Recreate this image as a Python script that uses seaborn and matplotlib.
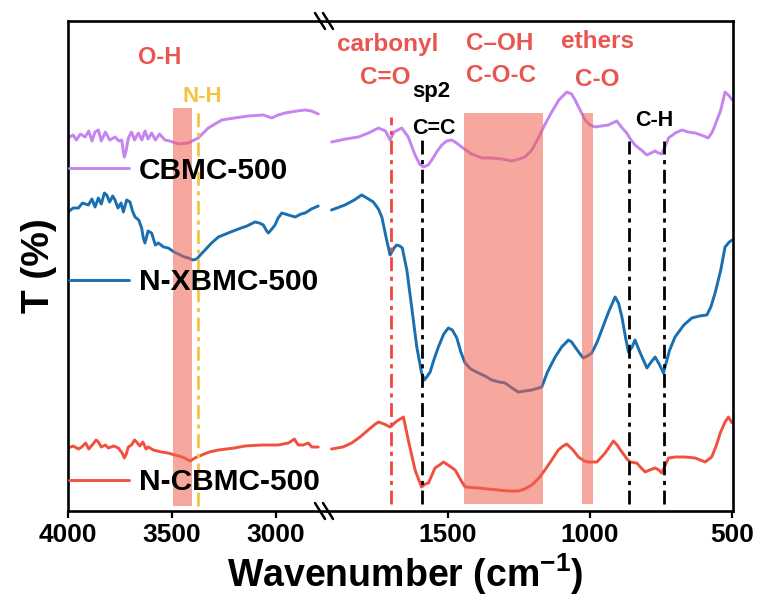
import pandas as pd                 # data tables
import seaborn as sns               # plotting
import matplotlib.pyplot as plt     # plotting
from matplotlib.lines import Line2D
from matplotlib.legend import Legend

# ---- spectra, high-wavenumber window (4000 - 2750 cm-1) ----
wn_cb_hi = [4000, 3975, 3960, 3940, 3918, 3900, 3885, 3870, 3854, 3840, 3820, 3800, 3774, 3755, 3742,
            3732, 3729, 3720, 3710, 3695, 3680, 3662, 3645, 3630, 3615, 3598, 3580, 3560, 3534, 3510,
            3470, 3422, 3374, 3326, 3261, 3200, 3133, 3060, 3021, 2990, 2957, 2900, 2861, 2830, 2797]
t_cb_hi = [372, 375, 370, 376, 373, 379, 369, 378, 380, 369, 378, 370, 373, 369, 370,
           356, 353, 360, 372, 378, 370, 377, 370, 379, 371, 377, 370, 376, 370, 369,
           366, 367, 372, 382, 390, 392, 394, 395, 392, 395, 397, 399, 400, 399, 396]

wn_nx_hi = [4000, 3975, 3950, 3930, 3902, 3885, 3870, 3854, 3840, 3825, 3814, 3800, 3785, 3774, 3760,
            3745, 3734, 3718, 3702, 3690, 3678, 3660, 3646, 3638, 3630, 3615, 3598, 3580, 3566, 3540,
            3518, 3490, 3470, 3440, 3421, 3400, 3381, 3360, 3341, 3310, 3277, 3230, 3181, 3140, 3101,
            3080, 3061, 3045, 3037, 3020, 3005, 2990, 2972, 2940, 2908, 2880, 2860, 2830, 2797]
t_nx_hi = [298, 302, 302, 307, 305, 311, 303, 312, 306, 317, 315, 308, 314, 310, 302,
           307, 298, 310, 308, 299, 293, 290, 282, 272, 267, 279, 277, 265, 267, 263,
           262, 258, 256, 253, 252, 250, 251, 256, 260, 267, 273, 277, 281, 284, 288,
           287, 285, 279, 277, 281, 285, 292, 297, 295, 293, 296, 297, 301, 304]

wn_nc_hi = [4000, 3975, 3950, 3934, 3915, 3900, 3880, 3865, 3854, 3840, 3820, 3806, 3780, 3758, 3740,
            3729, 3720, 3710, 3695, 3680, 3670, 3655, 3640, 3625, 3614, 3590, 3550, 3520, 3486, 3450,
            3413, 3390, 3357, 3320, 3277, 3200, 3149, 3070, 2989, 2941, 2925, 2912, 2900, 2893, 2870,
            2845, 2828, 2797]
t_nc_hi = [62, 64, 61, 63, 67, 61, 66, 70, 68, 63, 65, 62, 64, 62, 57,
           52, 56, 63, 65, 70, 68, 64, 68, 61, 63, 60, 58, 57, 55, 53,
           49, 52, 55, 58, 60, 62, 64, 65, 65, 67, 69, 71, 67, 65, 65,
           67, 63, 63]

# ---- spectra, low-wavenumber window (1925 - 500 cm-1) ----
wn_cb_lo = [1910, 1860, 1816, 1780, 1745, 1720, 1704, 1690, 1663, 1640, 1616, 1600, 1587, 1570, 1557,
            1540, 1522, 1505, 1487, 1470, 1452, 1417, 1380, 1346, 1310, 1276, 1250, 1229, 1205, 1182,
            1160, 1135, 1110, 1082, 1065, 1053, 1035, 1018, 1000, 982, 960, 936, 906, 890, 871,
            856, 842, 820, 800, 785, 771, 760, 748, 735, 724, 700, 677, 655, 630, 600,
            584, 570, 560, 540, 525, 510, 500]
t_cb_lo = [368, 371, 373, 377, 382, 379, 370, 378, 382, 373, 355, 346, 343, 345, 350,
           358, 365, 369, 370, 367, 363, 356, 352, 352, 351, 349, 351, 353, 360, 372,
           385, 398, 410, 418, 416, 410, 400, 390, 385, 383, 384, 385, 389, 383, 377,
           370, 365, 360, 355, 357, 359, 357, 356, 364, 372, 377, 380, 378, 377, 374,
           372, 378, 385, 400, 418, 414, 410]

wn_nx_lo = [1910, 1863, 1830, 1804, 1780, 1763, 1745, 1733, 1716, 1704, 1690, 1681, 1670, 1661, 1645,
            1628, 1610, 1593, 1583, 1575, 1563, 1550, 1534, 1515, 1499, 1485, 1469, 1455, 1440, 1420,
            1393, 1370, 1346, 1320, 1299, 1275, 1253, 1230, 1205, 1170, 1150, 1123, 1100, 1076, 1065,
            1053, 1035, 1024, 1010, 994, 975, 959, 935, 912, 900, 888, 875, 865, 852, 842,
            825, 800, 785, 771, 755, 742, 720, 701, 670, 642, 615, 589, 575, 560, 540,
            525, 510, 500]
t_nx_lo = [300, 305, 310, 315, 311, 308, 301, 293, 270, 255, 262, 265, 264, 262, 240,
           203, 163, 137, 130, 133, 138, 150, 163, 176, 182, 180, 172, 158, 147, 141,
           137, 134, 130, 128, 127, 122, 118, 119, 120, 123, 138, 153, 163, 170, 168,
           163, 156, 152, 154, 157, 168, 180, 198, 213, 207, 193, 172, 158, 163, 170,
           158, 142, 148, 153, 145, 137, 160, 173, 185, 192, 194, 195, 203, 217, 240,
           263, 268, 270]

wn_nc_lo = [1910, 1870, 1839, 1810, 1781, 1760, 1745, 1725, 1704, 1680, 1657, 1640, 1628, 1616, 1600,
            1593, 1580, 1569, 1555, 1546, 1530, 1516, 1500, 1475, 1455, 1440, 1393, 1360, 1323, 1290,
            1253, 1230, 1205, 1180, 1159, 1135, 1112, 1095, 1082, 1060, 1041, 1020, 1006, 976, 947,
            930, 918, 905, 888, 870, 859, 836, 820, 806, 790, 771, 758, 748, 735, 724,
            700, 666, 630, 595, 572, 555, 542, 525, 513, 500]
t_nc_lo = [61, 63, 67, 73, 80, 85, 88, 86, 83, 89, 93, 70, 55, 40, 28,
           23, 26, 27, 36, 42, 45, 48, 45, 40, 30, 23, 22, 21, 20, 19,
           19, 21, 25, 32, 40, 50, 60, 64, 66, 60, 53, 49, 48, 48, 57,
           64, 69, 65, 58, 51, 48, 47, 42, 38, 40, 42, 40, 37, 45, 52,
           53, 53, 52, 48, 53, 65, 77, 88, 93, 87]

samples = ['CBMC-500', 'N-XBMC-500', 'N-CBMC-500']
colors = {'CBMC-500': '#c584f0', 'N-XBMC-500': '#1a6fb0', 'N-CBMC-500': '#f2503f'}
label_y = {'CBMC-500': 0.694, 'N-XBMC-500': 0.467, 'N-CBMC-500': 0.059}

# band assignments
span_oh = (3497, 3403)
span_coh = (1443, 1167)
span_ether = (1029, 991)
line_nh = 3376
line_co = 1700
lines_black = [1593, 863, 741]


def frame(wn, t, name, part):
    return pd.DataFrame({'wn': wn, 'T': t, 'sample': name, 'part': part})


allDat = pd.concat([
    frame(wn_cb_hi, t_cb_hi, 'CBMC-500', 'hi'), frame(wn_nx_hi, t_nx_hi, 'N-XBMC-500', 'hi'),
    frame(wn_nc_hi, t_nc_hi, 'N-CBMC-500', 'hi'), frame(wn_cb_lo, t_cb_lo, 'CBMC-500', 'lo'),
    frame(wn_nx_lo, t_nx_lo, 'N-XBMC-500', 'lo'), frame(wn_nc_lo, t_nc_lo, 'N-CBMC-500', 'lo'),
], ignore_index=True)

sns.set_theme(style='ticks')
plt.rcParams['font.family'] = ['Liberation Sans', 'DejaVu Sans']
plt.rcParams['font.weight'] = 'bold'
plt.rcParams['mathtext.fontset'] = 'custom'
plt.rcParams['mathtext.bf'] = 'Liberation Sans:bold'
plt.rcParams['mathtext.rm'] = 'Liberation Sans:bold'
for k in ['text.color', 'axes.labelcolor', 'xtick.color', 'ytick.color', 'axes.edgecolor']:
    plt.rcParams[k] = 'black'

W, H = 765, 603
fig = plt.figure(figsize=(W / 100, H / 100), dpi=100)
bot, top = 1 - 511 / H, 1 - 21 / H
axL = fig.add_axes([68 / W, bot, 259 / W, top - bot])
axR = fig.add_axes([327 / W, bot, 406 / W, top - bot], sharey=axL)
axR.set_facecolor('none')

for ax, part in [(axL, 'hi'), (axR, 'lo')]:
    sns.lineplot(data=allDat[allDat.part == part], x='wn', y='T', hue='sample', hue_order=samples,
                 palette=colors, estimator=None, sort=False, linewidth=2.1, legend=False, ax=ax, zorder=2)
    for s in ['top', 'bottom', 'left', 'right']:
        ax.spines[s].set_linewidth(1.9)
    ax.tick_params(axis='x', direction='out', length=5, width=1.6, pad=4, labelsize=19)
    ax.tick_params(axis='y', left=False, labelleft=False, right=False)
    ax.set_xlabel('')
    ax.set_ylabel('')

axL.spines['right'].set_visible(False)
axR.spines['left'].set_visible(False)
axL.set_xlim(4000, 2755)
axR.set_xlim(1926, 497)
axL.set_ylim(-1, 489)
axL.set_xticks([4000, 3500, 3000])
axR.set_xticks([1500, 1000, 500])
axL.set_ylabel('T (%)', fontsize=28, fontweight='bold', labelpad=8)

span_kw = dict(color='#f0604f', alpha=0.55, lw=0, zorder=3)
axL.fill_between(span_oh, 4, 402, **span_kw)
axR.fill_between(span_coh, 6, 397, **span_kw)
axR.fill_between(span_ether, 6, 397, **span_kw)

dash = (0, (5, 2, 1.5, 2))
axL.vlines(line_nh, 4, 397, color='#f5c344', lw=2, ls=dash, zorder=4)
axR.vlines(line_co, 6, 393, color='#f0453a', lw=2, ls=dash, zorder=4)
axR.vlines(lines_black, 6, [373, 369, 369], color='black', lw=2, ls=dash, zorder=4)

# sample labels
for s in samples:
    leg = Legend(axL, [Line2D([], [], color=colors[s], lw=2.1)], [s], loc='center left',
                 bbox_to_anchor=(0.005, label_y[s]), frameon=False, borderpad=0, borderaxespad=0,
                 handlelength=2.0, handletextpad=0.34, prop={'size': 21.5, 'weight': 'bold'})
    leg.set_zorder(6)
    axL.add_artist(leg)

# band labels
red, yel = '#e9564f', '#f5c344'
axL.text(3558, 453, 'O-H', color=red, fontsize=17, ha='center', va='center')
axL.text(3356, 413, 'N-H', color=yel, fontsize=16, ha='center', va='center')
axR.text(1711, 466, 'carbonyl', color=red, fontsize=17.5, ha='center', va='center')
axR.text(1722, 433, 'C=O', color=red, fontsize=17.5, ha='center', va='center')
axR.text(1627, 418, 'sp2', color='black', fontsize=16, ha='left', va='center')
axR.text(1317, 466, 'C\u2013OH', color=red, fontsize=17.5, ha='center', va='center')
axR.text(1313, 434, 'C-O-C', color=red, fontsize=17.5, ha='center', va='center')
axR.text(975, 468, 'ethers', color=red, fontsize=17.5, ha='center', va='center')
axR.text(975, 431, 'C-O', color=red, fontsize=17.5, ha='center', va='center')
axR.text(1549, 381, 'C=C', color='black', fontsize=15.5, ha='center', va='center', zorder=5)
axR.text(775, 389, 'C-H', color='black', fontsize=15.5, ha='center', va='center', zorder=5)

fig.text(405 / W, 1 - 574 / H, r'Wavenumber (cm$^{\mathbf{-1}}$)', fontsize=27, fontweight='bold',
         ha='center', va='center')

# axis break marks
for yp in (21, 511):
    for xp in (320, 328):
        fig.add_artist(Line2D([(xp - 5) / W, (xp + 5) / W], [1 - (yp - 8) / H, 1 - (yp + 8) / H],
                              color='black', lw=1.8))

fig.savefig('out.png', dpi=100)
plt.close()
